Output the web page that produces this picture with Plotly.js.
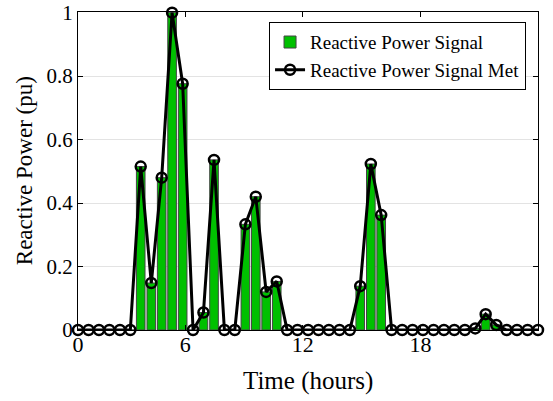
<!DOCTYPE html>
<html>
<head>
<meta charset="utf-8">
<script src="https://cdn.plot.ly/plotly-3.0.1.min.js"></script>
<style>html,body{margin:0;padding:0;background:#fff;}#chart{width:553px;height:401px;}</style>
</head>
<body>
<div id="chart"></div>
<script>
// Time of each sample (hours)
const timeHours = [0.53,1.07,1.6,2.13,2.67,3.2,3.73,4.27,4.8,5.33,5.87,6.4,6.93,7.47,8,8.53,9.07,9.6,10.13,10.67,11.2,11.73,12.27,12.8,13.33,13.87,14.4,14.93,15.47,16,16.53,17.07,17.6,18.13,18.67,19.2,19.73,20.27,20.8,21.33,21.87,22.4,22.93,23.47,24];
// Reactive power signal (pu)
const reactiveSignal = [0,0,0,0,0,0,0.515,0.148,0.48,1.0,0.776,0,0.055,0.536,0,0,0.333,0.42,0.12,0.153,0,0,0,0,0,0,0,0.138,0.523,0.362,0,0,0,0,0,0,0,0,0.005,0.05,0.016,0,0,0,0];
// Reactive power signal met (pu)
const reactiveMet = [0,0,0,0,0,0,0.515,0.148,0.48,1.0,0.776,0,0.055,0.536,0,0,0.333,0.42,0.12,0.153,0,0,0,0,0,0,0,0.138,0.523,0.362,0,0,0,0,0,0,0,0,0.005,0.05,0.016,0,0,0,0];
const xTickVals = [0.53, 6, 12, 18];
const xTickText = ['0', '6', '12', '18'];
const yTickVals = [0, 0.2, 0.4, 0.6, 0.8, 1];
const yTickText = ['0', '0.2', '0.4', '0.6', '0.8', '1'];

const font = 'Liberation Serif, Times New Roman, serif';

const traces = [
  {
    type: 'bar',
    name: 'Reactive Power Signal',
    x: timeHours,
    y: reactiveSignal,
    width: 0.44,
    marker: {color: '#00c000', line: {color: '#444444', width: 1}}
  },
  {
    type: 'scatter',
    mode: 'lines+markers',
    name: 'Reactive Power Signal Met',
    x: timeHours,
    y: reactiveMet,
    cliponaxis: false,
    line: {color: '#000000', width: 3},
    marker: {symbol: 'circle-open', size: 10, color: '#000000', line: {width: 2.5, color: '#000000'}}
  }
];

const layout = {
  width: 553, height: 401,
  margin: {l: 78, r: 15, t: 12, b: 71},
  paper_bgcolor: '#ffffff',
  plot_bgcolor: '#ffffff',
  font: {family: font, color: '#000000', size: 22},
  showlegend: true,
  legend: {
    x: 0.974, xanchor: 'right', y: 0.968, yanchor: 'top',
    bgcolor: '#ffffff', bordercolor: '#000000', borderwidth: 1,
    font: {family: font, size: 19, color: '#000000'},
    tracegroupgap: 0, itemwidth: 30
  },
  xaxis: {
    range: [0.53, 24],
    tickmode: 'array', tickvals: xTickVals, ticktext: xTickText,
    ticks: 'inside', ticklen: 5, tickcolor: '#000000',
    showline: true, linecolor: '#000000', linewidth: 1, mirror: 'ticks',
    showgrid: false, zeroline: false,
    ticklabeloverflow: 'allow', ticklabelstandoff: -5,
    tickfont: {family: font, size: 22}
  },
  yaxis: {
    range: [0, 1.002],
    tickmode: 'array', tickvals: yTickVals, ticktext: yTickText,
    ticks: 'inside', ticklen: 5, tickcolor: '#000000',
    showline: true, linecolor: '#000000', linewidth: 1, mirror: 'ticks',
    showgrid: true, gridcolor: '#e3e3e3', gridwidth: 1, zeroline: false,
    ticklabeloverflow: 'allow',
    tickfont: {family: font, size: 21}
  },
  annotations: [
    {
      text: 'Time (hours)', xref: 'paper', yref: 'paper',
      x: 0.5, y: -0.161, xanchor: 'center', yanchor: 'middle',
      showarrow: false, font: {family: font, size: 25, color: '#000000'}
    },
    {
      text: 'Reactive Power (pu)', xref: 'paper', yref: 'paper',
      x: -0.117, y: 0.5, xanchor: 'center', yanchor: 'middle', textangle: -90,
      showarrow: false, font: {family: font, size: 23, color: '#000000'}
    }
  ],
  bargap: 0
};

Plotly.newPlot('chart', traces, layout, {displayModeBar: false, staticPlot: true});
</script>
</body>
</html>
